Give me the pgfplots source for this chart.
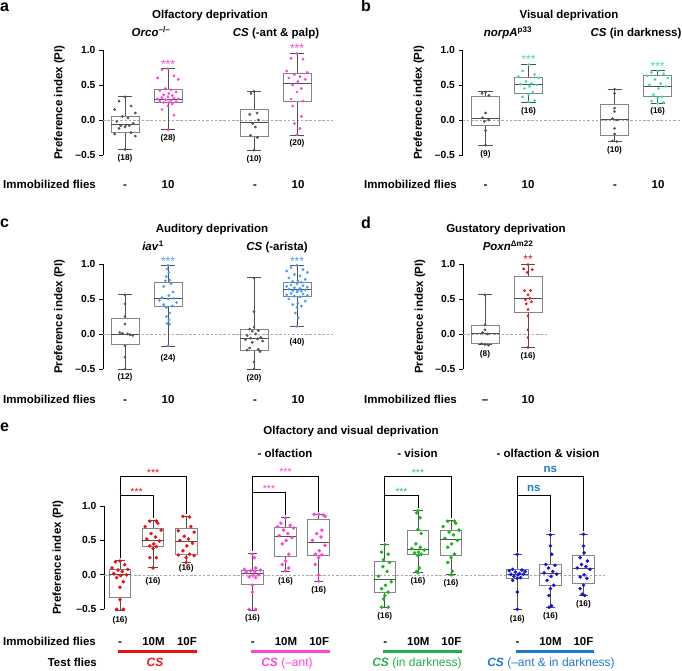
\documentclass[border=0pt]{standalone}
\usepackage{fontspec}
\setmainfont{Liberation Sans}
\usepackage{pgfplots}
\pgfplotsset{compat=1.18}
\usepgfplotslibrary{statistics}
\definecolor{dotgrey}{HTML}{555555}
\definecolor{pinkA}{HTML}{FF40DC}
\definecolor{greenB}{HTML}{2EE6A6}
\definecolor{blueC}{HTML}{4A9CF5}
\definecolor{redD}{HTML}{F21010}
\definecolor{redE}{HTML}{EE1111}
\definecolor{pinkE}{HTML}{FF44DD}
\definecolor{greenE}{HTML}{14B814}
\definecolor{blueE}{HTML}{1414DC}
\definecolor{greenT}{HTML}{22B04B}
\definecolor{greenS}{HTML}{2ACB6E}
\definecolor{blueT}{HTML}{1E78D2}
\definecolor{boxgrey}{HTML}{858585}
\definecolor{whiskgrey}{HTML}{505050}
\definecolor{zerogrey}{HTML}{A8A8A8}
\newcommand{\fTick}{\fontsize{10.3}{12}\selectfont\bfseries}
\newcommand{\fLab}{\fontsize{11.5}{13}\selectfont\bfseries}
\newcommand{\fN}{\fontsize{8.3}{10}\selectfont\bfseries}
\newcommand{\fStar}{\fontsize{12}{13}\selectfont}
\newcommand{\fStarE}{\fontsize{10.5}{12}\selectfont}
\newcommand{\fLet}{\fontsize{16}{18}\selectfont\bfseries}
\newcommand{\fCol}{\fontsize{12}{14}\selectfont}
\tikzset{
  nlab/.style={font=\fN},
  star/.style={font=\fStar, yshift=-2.5pt},
  starE/.style={font=\fStarE, yshift=-2.2pt},
}
\pgfplotsset{
  panel/.style={
    scale only axis, anchor=south west,
    axis x line=none, axis y line*=left,
    axis line style={-, black, line width=0.9pt},
    ymin=-0.5, ymax=1,
    ytick={-0.5,0,0.5,1}, yticklabels={–0.5,0.0,0.5,1.0},
    tick align=outside, major tick length=4pt,
    ytick style={black, line width=0.9pt},
    yticklabel style={font=\fTick},
    clip=false,
    ylabel={Preference index (PI)},
    boxplot/draw direction=y,
    boxplot/box extend=0.65, boxplot/whisker extend=0.33,
  },
  bx/.style={draw=boxgrey, line width=0.8pt, solid, boxplot/draw direction=y,
    boxplot/every whisker/.style={draw=whiskgrey},
    boxplot/every median/.style={draw=whiskgrey}},
  dots/.style={only marks, mark=*, mark size=1.2pt, color=#1},
  dotsE/.style={only marks, mark=*, mark size=1.6pt, color=#1},
  zero/.style={zerogrey, line width=0.6pt, dash pattern=on 2.5pt off 1.8pt},
  brk/.style={black, line width=0.9pt},
}
\begin{document}
\begin{tikzpicture}
\path[use as bounding box] (0,0) rectangle (682pt,670pt);

% ---------------- panel a ----------------
\begin{axis}[panel, at={(103pt,515pt)}, width=230pt, height=105pt,
  xmin=0.488, xmax=5.837,
  ylabel style={font=\fLab, at={(axis description cs:-0.19,0.5)}, anchor=center}]
\addplot[zero] coordinates {(0.488,0) (5.837,0)};
\addplot[bx, boxplot prepared={draw position=1, lower whisker=-0.42, lower quartile=-0.176, median=-0.07, upper quartile=0.05, upper whisker=0.333}] coordinates {};
\addplot[bx, boxplot prepared={draw position=2, lower whisker=-0.14, lower quartile=0.25, median=0.296, upper quartile=0.43, upper whisker=0.73}] coordinates {};
\addplot[bx, boxplot prepared={draw position=4, lower whisker=-0.43, lower quartile=-0.24, median=-0.033, upper quartile=0.157, upper whisker=0.41}] coordinates {};
\addplot[bx, boxplot prepared={draw position=5, lower whisker=-0.214, lower quartile=0.27, median=0.524, upper quartile=0.667, upper whisker=0.95}] coordinates {};
\addplot[dots=dotgrey] coordinates {(1,0.33) (0.86,0.27) (1.14,0.2) (0.76,0.15) (1.24,0.1) (0.94,0.05) (1.07,0.03) (0.81,-0.02) (1.19,-0.05) (1.02,-0.07) (0.9,-0.08) (1.1,-0.08) (1,-0.1) (0.86,-0.12) (1.14,-0.18) (0.76,-0.2) (1.24,-0.23) (1,-0.42)};
\addplot[dots=pinkA] coordinates {(2,0.73) (1.86,0.72) (2.14,0.63) (1.76,0.60) (2.24,0.58) (1.94,0.45) (2.07,0.43) (1.81,0.42) (2.19,0.40) (2.02,0.38) (1.9,0.36) (2.1,0.35) (2,0.33) (1.86,0.32) (2.14,0.31) (1.76,0.30) (2.24,0.30) (1.94,0.29) (2.07,0.28) (1.81,0.27) (2.19,0.26) (2.02,0.25) (1.9,0.25) (2.1,0.23) (2,0.20) (1.86,0.15) (2.14,0.07) (2,-0.14)};
\addplot[dots=dotgrey] coordinates {(4,0.41) (3.93,0.38) (4.07,0.1) (3.9,0.08) (4.1,0.0) (3.97,-0.05) (4.03,-0.1) (3.92,-0.22) (4.08,-0.25) (4,-0.43)};
\addplot[dots=pinkA] coordinates {(5,0.95) (4.86,0.88) (5.14,0.87) (4.76,0.7) (5.24,0.68) (4.94,0.65) (5.07,0.62) (4.81,0.6) (5.19,0.58) (5.02,0.55) (4.9,0.5) (5.1,0.45) (5,0.4) (4.86,0.3) (5.14,0.27) (4.9,0.2) (5.1,0.05) (4.94,-0.05) (5.07,-0.12) (5,-0.21)};
\node[star, text=pinkA] at (axis cs:2,0.83) {***};
\node[star, text=pinkA] at (axis cs:5,1.06) {***};
\node[nlab] at (axis cs:1,-0.55) {(18)};
\node[nlab] at (axis cs:2,-0.26) {(28)};
\node[nlab] at (axis cs:4,-0.56) {(10)};
\node[nlab] at (axis cs:5,-0.34) {(20)};
\end{axis}

% ---------------- panel b ----------------
\begin{axis}[panel, at={(462.5pt,515pt)}, width=217.5pt, height=105pt,
  xmin=0.465, xmax=5.52,
  ylabel style={font=\fLab, at={(axis description cs:-0.2,0.5)}, anchor=center}]
\addplot[zero] coordinates {(0.465,0) (5.52,0)};
\addplot[bx, boxplot prepared={draw position=1, lower whisker=-0.36, lower quartile=-0.08, median=0.024, upper quartile=0.333, upper whisker=0.405}] coordinates {};
\addplot[bx, boxplot prepared={draw position=2, lower whisker=0.257, lower quartile=0.38, median=0.51, upper quartile=0.605, upper whisker=0.795}] coordinates {};
\addplot[bx, boxplot prepared={draw position=4, lower whisker=-0.31, lower quartile=-0.214, median=0.01, upper quartile=0.224, upper whisker=0.443}] coordinates {};
\addplot[bx, boxplot prepared={draw position=5, lower whisker=0.238, lower quartile=0.333, median=0.476, upper quartile=0.633, upper whisker=0.705}] coordinates {};
\addplot[dots=dotgrey] coordinates {(1,0.40) (0.92,0.38) (1.08,0.35) (1,0.1) (0.93,0.03) (1.07,0.0) (0.97,-0.02) (1,-0.15) (1,-0.36)};
\addplot[dots=greenB] coordinates {(2,0.79) (1.86,0.7) (2.14,0.65) (1.76,0.62) (2.24,0.6) (1.94,0.55) (2.07,0.52) (1.81,0.51) (2.19,0.5) (2.02,0.48) (1.9,0.45) (2.1,0.4) (2,0.37) (1.86,0.33) (2.14,0.28) (2,0.26)};
\addplot[dots=dotgrey] coordinates {(4,0.44) (4,0.38) (4,0.17) (4,0.12) (3.95,0.02) (4.05,0.0) (4,-0.12) (4,-0.2) (3.95,-0.3) (4.05,-0.31)};
\addplot[dots=greenB] coordinates {(5,0.7) (4.86,0.68) (5.14,0.66) (4.76,0.63) (5.24,0.6) (4.94,0.58) (5.07,0.52) (4.81,0.5) (5.19,0.48) (5.02,0.45) (4.9,0.36) (5.1,0.33) (5,0.31) (4.86,0.27) (5.14,0.25) (5,0.24)};
\node[star, text=greenB] at (axis cs:2,0.895) {***};
\node[star, text=greenB] at (axis cs:5,0.80) {***};
\node[nlab] at (axis cs:1,-0.486) {(9)};
\node[nlab] at (axis cs:2,0.124) {(16)};
\node[nlab] at (axis cs:4,-0.43) {(10)};
\node[nlab] at (axis cs:5,0.12) {(16)};
\end{axis}

% ---------------- panel c ----------------
\begin{axis}[panel, at={(103pt,301pt)}, width=230pt, height=105pt,
  xmin=0.488, xmax=5.837,
  ylabel style={font=\fLab, at={(axis description cs:-0.19,0.5)}, anchor=center}]
\addplot[zero] coordinates {(0.488,0) (5.837,0)};
\addplot[bx, boxplot prepared={draw position=1, lower whisker=-0.505, lower quartile=-0.152, median=0.0, upper quartile=0.219, upper whisker=0.562}] coordinates {};
\addplot[bx, boxplot prepared={draw position=2, lower whisker=-0.171, lower quartile=0.395, median=0.51, upper quartile=0.733, upper whisker=0.986}] coordinates {};
\addplot[bx, boxplot prepared={draw position=4, lower whisker=-0.5, lower quartile=-0.229, median=-0.062, upper quartile=0.071, upper whisker=0.805}] coordinates {};
\addplot[bx, boxplot prepared={draw position=5, lower whisker=0.114, lower quartile=0.538, median=0.633, upper quartile=0.743, upper whisker=0.976}] coordinates {};
\addplot[dots=dotgrey] coordinates {(1,0.56) (1,0.43) (1,0.25) (1,0.14) (0.88,0.02) (0.94,0.01) (1.06,0.0) (1.12,-0.01) (1.18,-0.02) (1,-0.17) (1,-0.33) (1,-0.5)};
\addplot[dots=blueC] coordinates {(2,0.98) (1.98,0.93) (2.02,0.88) (1.96,0.82) (2.04,0.77) (1.94,0.76) (2.07,0.72) (1.9,0.68) (2.12,0.6) (2.02,0.55) (1.86,0.52) (2.14,0.51) (2,0.5) (1.8,0.48) (2.2,0.45) (1.9,0.42) (2.1,0.4) (1.96,0.38) (2.04,0.3) (1.96,0.25) (2.02,0.2) (1.98,0.15) (2.04,0.14) (2,-0.17)};
\addplot[dots=dotgrey] coordinates {(4,0.8) (4,0.32) (4,0.1) (3.9,0.07) (4.1,0.05) (3.96,0.04) (4.04,0.0) (3.84,-0.02) (4.16,-0.05) (3.92,-0.06) (4.08,-0.07) (3.8,-0.08) (4.2,-0.1) (3.96,-0.12) (3.9,-0.2) (4.1,-0.22) (3.84,-0.23) (4.14,-0.25) (4,-0.4) (4,-0.5)};
\addplot[dots=blueC] coordinates {(5,0.98) (4.86,0.95) (5.14,0.92) (4.76,0.9) (5.24,0.88) (4.94,0.85) (5.07,0.83) (4.81,0.8) (5.19,0.78) (5.02,0.76) (4.9,0.75) (5.1,0.74) (5,0.72) (4.86,0.7) (5.14,0.69) (4.76,0.68) (5.24,0.67) (4.94,0.66) (5.07,0.65) (4.81,0.64) (5.19,0.63) (5.02,0.62) (4.9,0.62) (5.1,0.61) (5,0.6) (4.86,0.58) (5.14,0.57) (4.76,0.56) (5.24,0.55) (4.94,0.54) (5.07,0.53) (4.81,0.5) (5.19,0.47) (5.02,0.44) (4.9,0.42) (5.1,0.4) (5,0.38) (4.96,0.3) (5.03,0.23) (5,0.11)};
\node[star, text=blueC] at (axis cs:2,1.067) {***};
\node[star, text=blueC] at (axis cs:5,1.07) {***};
\node[nlab] at (axis cs:1,-0.614) {(12)};
\node[nlab] at (axis cs:2,-0.352) {(24)};
\node[nlab] at (axis cs:4,-0.633) {(20)};
\node[nlab] at (axis cs:5,-0.119) {(40)};
\end{axis}

% ---------------- panel d ----------------
\begin{axis}[panel, at={(463pt,301pt)}, width=85pt, height=105pt,
  xmin=0.488, xmax=2.465,
  ylabel style={font=\fLab, at={(axis description cs:-0.506,0.5)}, anchor=center}]
\addplot[zero] coordinates {(0.488,0) (2.465,0)};
\addplot[bx, boxplot prepared={draw position=1, lower whisker=-0.15, lower quartile=-0.132, median=0.011, upper quartile=0.116, upper whisker=0.57}] coordinates {};
\addplot[bx, boxplot prepared={draw position=2, lower whisker=-0.19, lower quartile=0.307, median=0.503, upper quartile=0.823, upper whisker=1.0}] coordinates {};
\addplot[dots=dotgrey] coordinates {(1,0.56) (1,0.13) (1,0.06) (0.94,0.02) (1.06,0.0) (0.92,-0.14) (1,-0.15) (1.08,-0.16)};
\addplot[dots=redD] coordinates {(2,0.99) (1.9,0.93) (2.1,0.92) (1.98,0.88) (1.92,0.62) (2.06,0.62) (2,0.56) (2.04,0.51) (1.94,0.49) (2.08,0.46) (1.96,0.43) (2,0.35) (2,0.26) (2,0.06) (2,-0.05) (2,-0.19)};
\node[star, text=redD] at (axis cs:2,1.1) {**};
\node[nlab] at (axis cs:1,-0.285) {(8)};
\node[nlab] at (axis cs:2,-0.323) {(16)};
\end{axis}

% ---------------- panel e ----------------
\begin{axis}[panel, at={(104pt,60.7pt)}, width=503pt, height=103.3pt,
  xmin=-0.483, xmax=14.71, boxplot/whisker extend=0.28,
  ylabel style={font=\fLab, at={(axis description cs:-0.0915,0.5)}, anchor=center}]
\addplot[zero] coordinates {(-0.483,0) (14.71,0)};
\addplot[bx, boxplot prepared={draw position=0, lower whisker=-0.515, lower quartile=-0.32, median=0.01, upper quartile=0.078, upper whisker=0.204}] coordinates {};
\addplot[bx, boxplot prepared={draw position=1, lower whisker=0.102, lower quartile=0.408, median=0.505, upper quartile=0.675, upper whisker=0.796}] coordinates {};
\addplot[bx, boxplot prepared={draw position=2, lower whisker=0.175, lower quartile=0.296, median=0.48, upper quartile=0.675, upper whisker=0.854}] coordinates {};
\addplot[bx, boxplot prepared={draw position=4, lower whisker=-0.515, lower quartile=-0.141, median=0.019, upper quartile=0.068, upper whisker=0.31}] coordinates {};
\addplot[bx, boxplot prepared={draw position=5, lower whisker=0.053, lower quartile=0.272, median=0.553, upper quartile=0.69, upper whisker=0.835}] coordinates {};
\addplot[bx, boxplot prepared={draw position=6, lower whisker=-0.092, lower quartile=0.286, median=0.466, upper quartile=0.81, upper whisker=0.883}] coordinates {};
\addplot[bx, boxplot prepared={draw position=8, lower whisker=-0.476, lower quartile=-0.248, median=-0.063, upper quartile=0.19, upper whisker=0.442}] coordinates {};
\addplot[bx, boxplot prepared={draw position=9, lower whisker=0.029, lower quartile=0.296, median=0.369, upper quartile=0.65, upper whisker=0.932}] coordinates {};
\addplot[bx, boxplot prepared={draw position=10, lower whisker=0.0, lower quartile=0.286, median=0.515, upper quartile=0.64, upper whisker=0.786}] coordinates {};
\addplot[bx, boxplot prepared={draw position=12, lower whisker=-0.505, lower quartile=-0.044, median=0.01, upper quartile=0.078, upper whisker=0.296}] coordinates {};
\addplot[bx, boxplot prepared={draw position=13, lower whisker=-0.466, lower quartile=-0.155, median=0.019, upper quartile=0.15, upper whisker=0.583}] coordinates {};
\addplot[bx, boxplot prepared={draw position=14, lower whisker=-0.301, lower quartile=-0.121, median=0.092, upper quartile=0.282, upper whisker=0.592}] coordinates {};
\addplot[dotsE=redE] coordinates {(0,0.2) (-0.14,0.19) (0.14,0.15) (-0.24,0.1) (0.24,0.08) (-0.06,0.07) (0.07,0.05) (-0.19,0.02) (0.19,0.0) (0.02,-0.01) (-0.1,-0.04) (0.1,-0.1) (0,-0.18) (0,-0.36) (-0.1,-0.5) (0.1,-0.5)};
\addplot[dotsE=redE] coordinates {(0.9,0.78) (1.1,0.78) (1.14,0.75) (0.76,0.7) (1.24,0.65) (0.94,0.6) (1.07,0.55) (0.81,0.52) (1.19,0.49) (1.02,0.45) (0.9,0.42) (1.1,0.41) (1,0.38) (0.9,0.25) (1.1,0.25) (1,0.1)};
\addplot[dotsE=redE] coordinates {(1.9,0.85) (2.1,0.84) (2.14,0.7) (1.76,0.64) (2.24,0.62) (1.94,0.56) (2.07,0.52) (1.81,0.5) (2.19,0.46) (2.02,0.42) (1.9,0.35) (2.1,0.3) (1.76,0.29) (2.24,0.28) (2,0.25) (2,0.18)};
\addplot[dotsE=pinkE] coordinates {(4,0.3) (4.06,0.25) (4.1,0.1) (3.76,0.08) (4.24,0.07) (3.94,0.06) (4.07,0.05) (3.81,0.04) (4.19,0.0) (4.02,-0.01) (3.9,-0.03) (4.1,-0.04) (4,-0.15) (4,-0.25) (3.9,-0.5) (4.1,-0.5)};
\addplot[dotsE=pinkE] coordinates {(5,0.83) (4.86,0.75) (5.14,0.72) (4.76,0.7) (5.24,0.68) (4.94,0.65) (5.07,0.6) (4.81,0.57) (5.19,0.54) (5.02,0.5) (4.9,0.45) (5.1,0.3) (5,0.2) (4.9,0.15) (5.1,0.1) (5,0.06)};
\addplot[dotsE=pinkE] coordinates {(5.86,0.88) (6.0,0.88) (6.14,0.87) (6.2,0.85) (6.1,0.65) (5.94,0.6) (6.07,0.55) (5.81,0.5) (6.19,0.43) (6.02,0.35) (5.9,0.3) (6.1,0.29) (6,0.25) (5.9,0.15) (6,0.0) (6,-0.09)};
\addplot[dotsE=greenE] coordinates {(8,0.44) (7.9,0.33) (8.1,0.3) (7.96,0.22) (8.14,0.18) (7.94,0.12) (8.07,0.05) (7.81,-0.02) (8.19,-0.1) (8.02,-0.15) (7.9,-0.2) (8.1,-0.25) (8,-0.3) (7.96,-0.35) (7.9,-0.47) (8.1,-0.47)};
\addplot[dotsE=greenE] coordinates {(9,0.93) (8.96,0.9) (9.06,0.83) (9,0.66) (9.1,0.6) (8.94,0.45) (9.07,0.4) (8.81,0.38) (9.19,0.36) (9.02,0.33) (8.9,0.32) (9.1,0.3) (9,0.28) (9.04,0.1) (8.96,0.05) (9,0.03)};
\addplot[dotsE=greenE] coordinates {(9.9,0.78) (10.1,0.78) (10.14,0.75) (9.76,0.7) (10.24,0.65) (9.94,0.62) (10.07,0.58) (9.81,0.53) (10.19,0.5) (10.02,0.45) (9.9,0.4) (10.1,0.3) (10,0.25) (9.9,0.18) (10.04,0.05) (10,0.0)};
\addplot[dotsE=blueE] coordinates {(12,0.3) (11.86,0.08) (12.14,0.07) (11.76,0.06) (12.24,0.05) (11.94,0.04) (12.07,0.02) (11.81,0.01) (12.19,0.01) (12.02,0.0) (11.9,-0.02) (12.1,-0.04) (12,-0.05) (11.86,-0.08) (12,-0.25) (12,-0.5)};
\addplot[dotsE=blueE] coordinates {(13,0.58) (13,0.42) (13.04,0.3) (12.86,0.15) (13.14,0.14) (12.94,0.1) (13.07,0.05) (12.81,0.03) (13.19,0.01) (13.02,-0.02) (12.9,-0.08) (13.1,-0.15) (13,-0.2) (12.96,-0.3) (13.04,-0.45) (12.96,-0.47)};
\addplot[dotsE=blueE] coordinates {(14,0.59) (14,0.42) (14.02,0.32) (13.9,0.25) (14.12,0.2) (13.94,0.15) (14.07,0.12) (13.81,0.1) (14.19,0.08) (14.02,0.0) (13.9,-0.03) (14.1,-0.05) (14,-0.15) (13.9,-0.2) (13.96,-0.28) (14.04,-0.3)};
\addplot[brk] coordinates {(0,0.24) (0,1.43) (2,1.43) (2,0.89)};
\addplot[brk] coordinates {(0,1.16) (1,1.16) (1,0.83)};
\addplot[brk] coordinates {(4,0.34) (4,1.43) (6,1.43) (6,0.92)};
\addplot[brk] coordinates {(4,1.19) (5,1.19) (5,0.87)};
\addplot[brk] coordinates {(8,0.48) (8,1.43) (10,1.43) (10,0.82)};
\addplot[brk] coordinates {(8,1.16) (9,1.16) (9,0.965)};
\addplot[brk] coordinates {(12,0.335) (12,1.43) (14,1.43) (14,0.63)};
\addplot[brk] coordinates {(12,1.16) (13,1.16) (13,0.62)};
\node[starE, text=redE] at (axis cs:1,1.52) {***};
\node[starE, text=redE] at (axis cs:0.5,1.24) {***};
\node[starE, text=pinkE] at (axis cs:5,1.53) {***};
\node[starE, text=pinkE] at (axis cs:4.5,1.28) {***};
\node[starE, text=greenS] at (axis cs:9,1.52) {***};
\node[starE, text=greenS] at (axis cs:8.5,1.24) {***};
\node[font=\fLab, text=blueT] at (axis cs:13,1.53) {ns};
\node[font=\fLab, text=blueT] at (axis cs:12.5,1.26) {ns};
\node[nlab] at (axis cs:0,-0.66) {(16)};
\node[nlab] at (axis cs:1,-0.10) {(16)};
\node[nlab] at (axis cs:2,0.092) {(16)};
\node[nlab] at (axis cs:4,-0.636) {(16)};
\node[nlab] at (axis cs:5,-0.10) {(16)};
\node[nlab] at (axis cs:6,-0.223) {(16)};
\node[nlab] at (axis cs:8,-0.60) {(16)};
\node[nlab] at (axis cs:9,-0.10) {(16)};
\node[nlab] at (axis cs:10,-0.126) {(16)};
\node[nlab] at (axis cs:12,-0.646) {(16)};
\node[nlab] at (axis cs:13,-0.597) {(16)};
\node[nlab] at (axis cs:14,-0.427) {(16)};
\end{axis}

\begin{scope}[x=1pt,y=1pt]
\node[anchor=base west, font=\fLet, inner sep=0] at (0,658.3) {a};
\node[anchor=base, font=\fLab] at (210,651.3) {Olfactory deprivation};
\node[anchor=base, font=\fLab] at (151,633) {\textit{Orco}\textsuperscript{–/–}};
\node[anchor=base, font=\fLab] at (276,633) {\textit{CS} (-ant \& palp)};
\node[anchor=base west, font=\fLab, inner sep=0] at (3,481) {Immobilized flies};
\node[anchor=base, font=\fLab] at (125,481) {-};
\node[anchor=base, font=\fLab] at (168,481) {10};
\node[anchor=base, font=\fLab] at (255,481) {-};
\node[anchor=base, font=\fLab] at (298,481) {10};
\node[anchor=base west, font=\fLet, inner sep=0] at (361,658.3) {b};
\node[anchor=base, font=\fLab] at (569,651.3) {Visual deprivation};
\node[anchor=base, font=\fLab] at (508,633) {\textit{norpA}\textsuperscript{p33}};
\node[anchor=base, font=\fLab] at (636,633) {\textit{CS} (in darkness)};
\node[anchor=base west, font=\fLab, inner sep=0] at (364,481) {Immobilized flies};
\node[anchor=base, font=\fLab] at (485.5,481) {-};
\node[anchor=base, font=\fLab] at (528,481) {10};
\node[anchor=base, font=\fLab] at (615,481) {-};
\node[anchor=base, font=\fLab] at (658,481) {10};
\node[anchor=base west, font=\fLet, inner sep=0] at (0,442) {c};
\node[anchor=base, font=\fLab] at (212,437.7) {Auditory deprivation};
\node[anchor=base, font=\fLab] at (153,419.3) {\textit{iav}\textsuperscript{1}};
\node[anchor=base, font=\fLab] at (277,419.3) {\textit{CS} (-arista)};
\node[anchor=base west, font=\fLab, inner sep=0] at (3,267) {Immobilized flies};
\node[anchor=base, font=\fLab] at (125,267) {-};
\node[anchor=base, font=\fLab] at (168,267) {10};
\node[anchor=base, font=\fLab] at (255,267) {-};
\node[anchor=base, font=\fLab] at (298,267) {10};
\node[anchor=base west, font=\fLet, inner sep=0] at (361,441.7) {d};
\node[anchor=base, font=\fLab] at (506,437.7) {Gustatory deprivation};
\node[anchor=base, font=\fLab] at (508,419.3) {\textit{Poxn}\textsuperscript{Δm22}};
\node[anchor=base west, font=\fLab, inner sep=0] at (364,267) {Immobilized flies};
\node[anchor=base, font=\fLab] at (485,267) {–};
\node[anchor=base, font=\fLab] at (528,267) {10};
\node[anchor=base west, font=\fLet, inner sep=0] at (0,238.3) {e};
\node[anchor=base, font=\fLab] at (351,236) {Olfactory and visual deprivation};
\node[anchor=base, font=\fLab] at (285,212.7) {- olfaction};
\node[anchor=base, font=\fLab] at (417.5,212.7) {- vision};
\node[anchor=base, font=\fLab] at (548,212.7) {- olfaction \& vision};
\node[anchor=base west, font=\fLab, inner sep=0] at (3,25) {Immobilized flies};
\foreach \xa/\xb/\xc in {120/153.5/187, 252.8/286/319.2, 385.2/418.3/451.4, 517.5/550.5/583.5}{
  \node[anchor=base, font=\fLab] at (\xa,25) {-};
  \node[anchor=base, font=\fLab] at (\xb,25) {10M};
  \node[anchor=base, font=\fLab] at (\xc,25) {10F};
}
\draw[redE, line width=2.5pt] (118,18.3) -- (197,18.3);
\draw[pinkE, line width=2.5pt] (250.7,18.3) -- (330,18.3);
\draw[greenT, line width=2.5pt] (383.3,18.3) -- (462,18.3);
\draw[blueT, line width=2.5pt] (516,18.3) -- (594,18.3);
\node[anchor=base east, font=\fLab, inner sep=0] at (97,3.5) {Test flies};
\node[anchor=base, font=\fCol, text=redE] at (155,3.5) {\textbf{\textit{CS}}};
\node[anchor=base, font=\fCol, text=pinkE] at (287,3.5) {\textbf{\textit{CS}} (–ant)};
\node[anchor=base, font=\fCol, text=greenT] at (417,3.5) {\textbf{\textit{CS}} (in darkness)};
\node[anchor=base, font=\fCol, text=blueT] at (551,3.5) {\textbf{\textit{CS}} (–ant \& in darkness)};
\end{scope}
\end{tikzpicture}
\end{document}
